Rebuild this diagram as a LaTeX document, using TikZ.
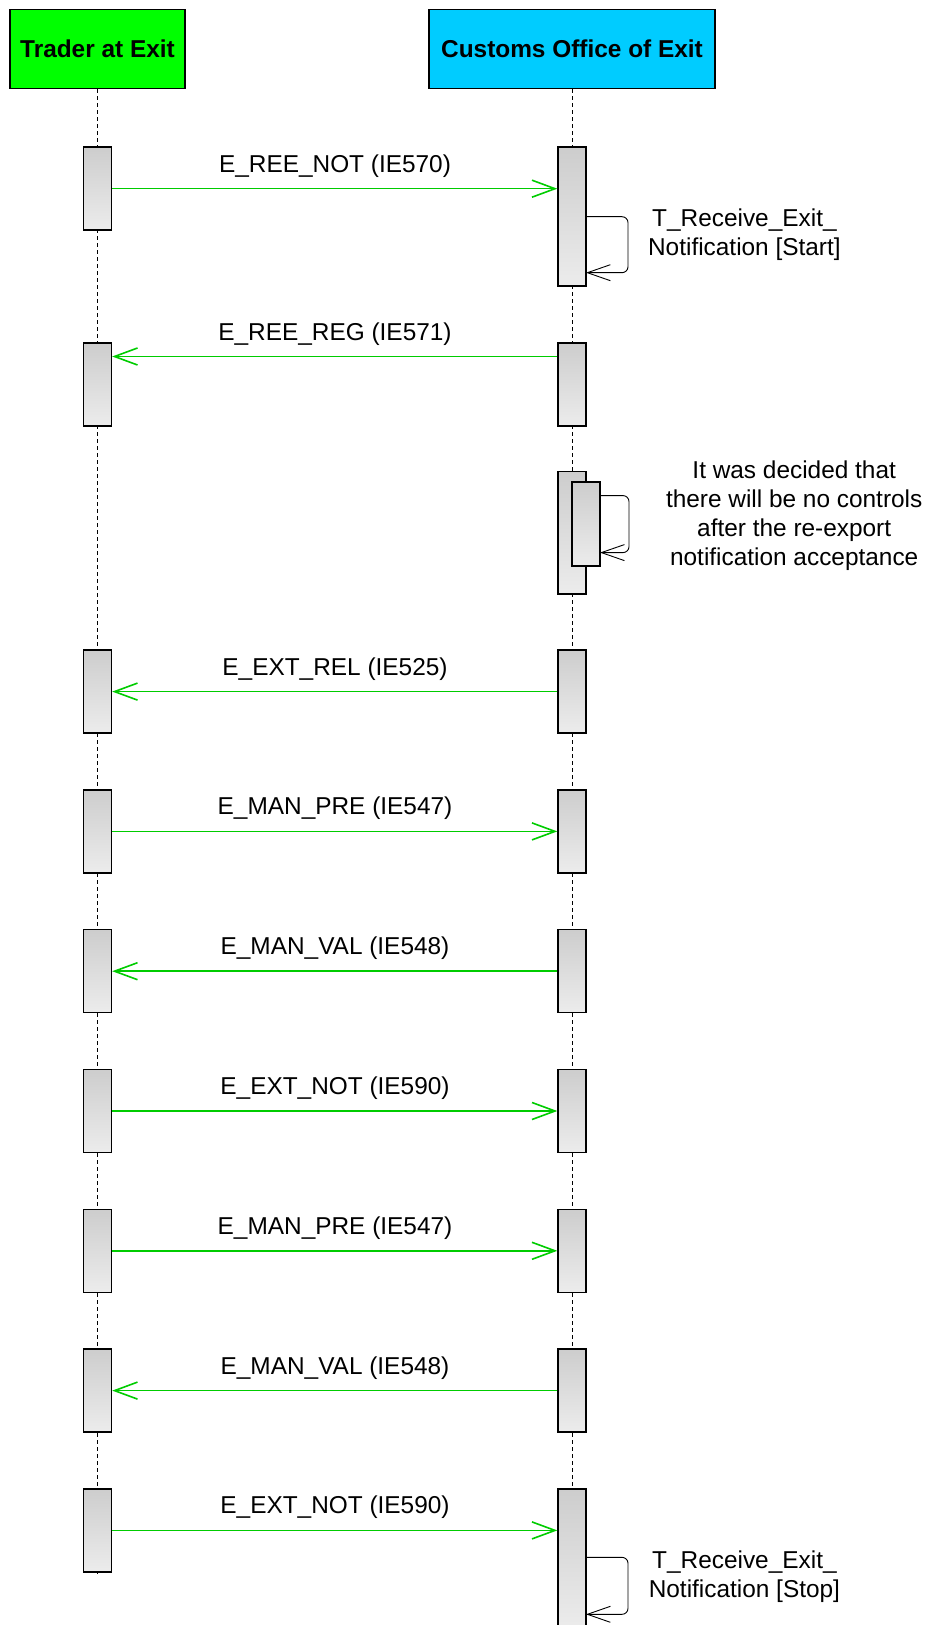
\documentclass[tikz,border=0pt]{standalone}
\usepackage{fontspec}
\setmainfont{Liberation Sans}
\usetikzlibrary{arrows.meta}
\definecolor{hdrgreen}{RGB}{0,255,0}
\definecolor{hdrcyan}{RGB}{0,204,255}
\definecolor{msggreen}{RGB}{0,204,0}
\definecolor{bartop}{RGB}{205,205,205}
\definecolor{barbot}{RGB}{236,236,236}
\begin{document}
\begin{tikzpicture}[x=0.5pt,y=-0.5pt,
  font=\fontsize{12.2}{14.4}\selectfont,
  header/.style={draw=black, line width=0.75pt, minimum height=39.5pt, inner sep=0pt,
    font=\fontsize{12.2}{14}\selectfont\bfseries},
  actbar/.style={draw=black, line width=0.7pt, top color=bartop, bottom color=barbot,
    minimum width=14pt, inner sep=0pt},
  lifeline/.style={line width=0.5pt, dash pattern=on 2pt off 1.5pt},
  msgarrow/.style={draw=msggreen, line width=0.8pt, -{Straight Barb[length=11.5pt,width=8.5pt]}},
  selfloop/.style={draw=black, line width=0.45pt, rounded corners=3pt, -{Straight Barb[length=11.5pt,width=8pt]}},
  msglabel/.style={inner sep=0pt},
  notelabel/.style={inner sep=0pt, align=center}
]
\useasboundingbox (0,0) rectangle (930,1625);

% headers
\node[header, fill=hdrgreen, minimum width=87.5pt] (trader) at (97.5,49) {Trader at Exit};
\node[header, fill=hdrcyan, minimum width=143pt] (customs) at (572,49) {Customs Office of Exit};

% lifelines
\coordinate (tend) at (97.5,1574);
\coordinate (cend) at (572,1625);
\draw[lifeline] (trader.south) -- (tend);
\draw[lifeline] (customs.south) -- (cend);

% activation bars
\node[actbar, minimum height=41.5pt] (t1) at (97.5,188.7) {};
\node[actbar, minimum height=69.5pt] (c1) at (572,216.7) {};
\node[actbar, minimum height=41.5pt] (t2) at (97.5,384.7) {};
\node[actbar, minimum height=41.5pt] (c2) at (572,384.7) {};
\node[actbar, minimum height=61.2pt] (c3) at (572,532.9) {};
\node[actbar, minimum height=42pt] (c3b) at (586,524.1) {};
\foreach \i/\y in {4/691.6, 5/831.4, 6/971.2, 7/1111.0, 8/1250.8, 9/1390.6} {
  \node[actbar, minimum height=41.5pt] (t\i) at (97.5,\y) {};
  \node[actbar, minimum height=41.5pt] (c\i) at (572,\y) {};
}
\node[actbar, minimum height=41.5pt] (t10) at (97.5,1530.4) {};
\node[actbar, minimum height=69.6pt] (c10) at (572,1558.5) {};

% message 1
\draw[msgarrow] (t1.east) -- (t1.east -| c1.west);
\node[msglabel] (m1) at (335,165.7) {E\_REE\_NOT (IE570)};

% self loop 1
\coordinate (s1r) at (628,244.7);
\coordinate (s1e) at (586,272.7);
\draw[selfloop] (c1.east) -| (s1r) |- (s1e);
\node[notelabel] (n1) at (744.4,234.8) {T\_Receive\_Exit\_\\Notification [Start]};

% message 2
\draw[msgarrow] ([yshift=-7pt]c2.north west) -- ([yshift=-7pt]c2.north west -| t2.east);
\node[msglabel] (m2) at (335,333.8) {E\_REE\_REG (IE571)};

% nested self loop
\coordinate (s2a) at (600,495.6);
\coordinate (s2r) at (629,524.1);
\coordinate (s2e) at (600,552.6);
\draw[selfloop] (s2a) -| (s2r) |- (s2e);
\node[notelabel] (n2) at (794.2,515.5) {It was decided that\\there will be no controls\\after the re-export\\notification acceptance};

% messages 4..10
\draw[msgarrow] (c4.west) -- (t4.east);
\node[msglabel] (m4) at (335,668.7) {E\_EXT\_REL (IE525)};
\draw[msgarrow] (t5.east) -- (c5.west);
\node[msglabel] (m5) at (335,808.5) {E\_MAN\_PRE (IE547)};
\draw[msgarrow] (c6.west) -- (t6.east);
\node[msglabel] (m6) at (335,948.3) {E\_MAN\_VAL (IE548)};
\draw[msgarrow] (t7.east) -- (c7.west);
\node[msglabel] (m7) at (335,1088.1) {E\_EXT\_NOT (IE590)};
\draw[msgarrow] (t8.east) -- (c8.west);
\node[msglabel] (m8) at (335,1227.9) {E\_MAN\_PRE (IE547)};
\draw[msgarrow] (c9.west) -- (t9.east);
\node[msglabel] (m9) at (335,1367.7) {E\_MAN\_VAL (IE548)};
\draw[msgarrow] (t10.east) -- (t10.east -| c10.west);
\node[msglabel] (m10) at (335,1507.5) {E\_EXT\_NOT (IE590)};

% self loop last
\coordinate (s3a) at (586,1557.3);
\coordinate (s3r) at (628,1585.8);
\coordinate (s3e) at (586,1614.3);
\draw[selfloop] (s3a) -| (s3r) |- (s3e);
\node[notelabel] (n3) at (744.4,1576.4) {T\_Receive\_Exit\_\\Notification [Stop]};
\end{tikzpicture}
\end{document}
